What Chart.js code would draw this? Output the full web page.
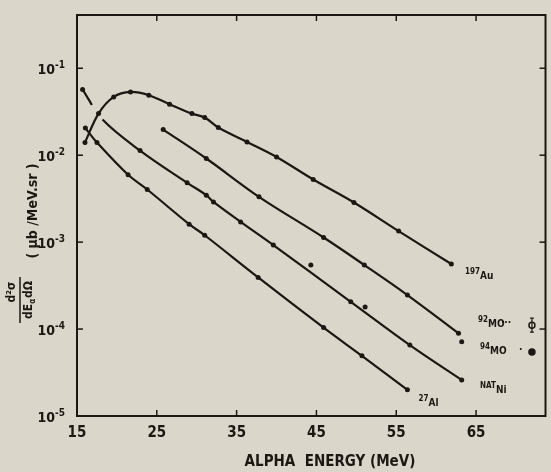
<!DOCTYPE html>
<html>
<head>
<meta charset="utf-8">
<script src="https://cdn.jsdelivr.net/npm/chart.js@4.4.1/dist/chart.umd.min.js"></script>
<style>
  html, body { margin: 0; padding: 0; background: #dbd6ca; overflow: hidden; }
  canvas { display: block; }
</style>
</head>
<body>
<canvas id="c" width="551" height="472"></canvas>
<script>
// ---- data (alpha energy in MeV, d2sigma in ub/MeV.sr) ----
const energyAu = [16.0, 17.7, 19.6, 21.7, 24.0, 26.6, 29.4, 31.0, 32.7, 36.3, 40.0, 44.6, 49.7, 55.3, 61.9];
const sigmaAu  = [0.014, 0.0301, 0.0468, 0.0534, 0.049, 0.0386, 0.0301, 0.0271, 0.0208, 0.0142, 0.00955, 0.00526, 0.00286, 0.00134, 0.00056];

const energyMo = [25.8, 31.2, 37.8, 45.9, 51.0, 56.4, 62.8];
const sigmaMo  = [0.0197, 0.00916, 0.00332, 0.00113, 0.000545, 0.000246, 0.0000893];

const energyNi = [15.7, 18.2, 22.9, 28.8, 31.2, 32.1, 35.5, 39.6, 49.3, 56.7, 63.2];
const sigmaNi  = [0.0569, 0.0257, 0.0113, 0.00481, 0.00347, 0.0029, 0.00171, 0.000924, 0.000206, 0.0000655, 0.000026];
const markNi   = [true, false, true, true, true, true, true, true, true, true, true];

const energyAl = [16.05, 17.5, 21.4, 23.8, 29.05, 31.0, 37.7, 45.9, 50.7, 56.4];
const sigmaAl  = [0.0205, 0.014, 0.00595, 0.00403, 0.00161, 0.0012, 0.000393, 0.000104, 0.0000492, 0.000020];

// points sitting off the drawn curves (Ni strays, last 94Mo point)
const energyStray = [44.3, 51.1, 63.2];
const sigmaStray  = [0.000545, 0.00018, 0.0000714];

// key symbols: 92Mo open, 94Mo filled
const energyKey = [72.0, 72.0];
const sigmaKey  = [0.000111, 0.0000545];

const xTicks = [15, 25, 35, 45, 55, 65];
const xTickLabels = ['15', '25', '35', '45', '55', '65'];
const yTicks = [1e-5, 1e-4, 1e-3, 1e-2, 1e-1];
const yTickExp = ['-5', '-4', '-3', '-2', '-1'];

const INK = '#1b1713';
const BG = '#dbd6ca';
const FONT = '"DejaVu Sans Condensed", "DejaVu Sans", sans-serif';

const pts = (xs, ys) => xs.map((v, i) => ({ x: v, y: ys[i] }));

const curve = (data, extra) => Object.assign({
  data, borderColor: INK, backgroundColor: INK, borderWidth: 2.2,
  pointRadius: 2.5, pointHoverRadius: 2.5, pointBorderWidth: 0,
  tension: 0.35, showLine: true
}, extra || {});

// isotope labels: mass number, symbol, anchor (energy, sigma)
const isoLabels = [
  { mass: '197', sym: 'Au', e: 63.6, s: 3.8e-4 },
  { mass: '92',  sym: 'Mo', e: 65.25, s: 1.05e-4 },
  { mass: '94',  sym: 'Mo', e: 65.5, s: 5.2e-5 },
  { mass: 'NAT', sym: 'Ni', e: 65.5, s: 1.85e-5 },
  { mass: '27',  sym: 'Al', e: 57.8, s: 1.3e-5 }
];

const annot = {
  id: 'annot',
  beforeDraw(chart) {
    const { ctx, width, height } = chart;
    ctx.save();
    ctx.fillStyle = BG;
    ctx.fillRect(0, 0, width, height);
    ctx.restore();
  },
  afterDraw(chart) {
    const { ctx, chartArea: a, scales: { x, y } } = chart;
    ctx.save();
    ctx.strokeStyle = INK;
    ctx.fillStyle = INK;
    const seg = (x1, y1, x2, y2) => { ctx.beginPath(); ctx.moveTo(x1, y1); ctx.lineTo(x2, y2); ctx.stroke(); };

    // frame + inward ticks
    ctx.lineWidth = 2;
    ctx.strokeRect(a.left, a.top, a.right - a.left, a.bottom - a.top);
    ctx.lineWidth = 1.5;
    xTicks.forEach(v => {
      if (v === x.min) return;
      const px = x.getPixelForValue(v);
      seg(px, a.bottom, px, a.bottom - 6);
      seg(px, a.top, px, a.top + 6);
    });
    yTicks.forEach(v => {
      const py = y.getPixelForValue(v);
      if (py >= a.bottom - 1) return;
      seg(a.left, py, a.left + 6, py);
      seg(a.right, py, a.right - 6, py);
    });

    // y tick labels: 10 with raised exponent
    ctx.textBaseline = 'alphabetic';
    ctx.textAlign = 'right';
    yTicks.forEach((v, i) => {
      const py = y.getPixelForValue(v);
      const rx = a.left - 12;
      ctx.font = 'bold 10px ' + FONT;
      const we = ctx.measureText(yTickExp[i]).width;
      ctx.fillText(yTickExp[i], rx, py);
      ctx.font = 'bold 14px ' + FONT;
      ctx.fillText('10', rx - we, py + 6);
    });

    // isotope labels
    ctx.textAlign = 'left';
    isoLabels.forEach(L => {
      const px = x.getPixelForValue(L.e), py = y.getPixelForValue(L.s);
      ctx.font = 'bold 8px ' + FONT;
      ctx.fillText(L.mass, px, py - 5);
      const w = ctx.measureText(L.mass).width;
      ctx.font = 'bold 10px ' + FONT;
      ctx.fillText(L.sym === 'Mo' ? 'MO' : L.sym, px + w, py);
    });

    // key leaders + error bar on open symbol
    const kx = x.getPixelForValue(energyKey[0]);
    const k1 = y.getPixelForValue(sigmaKey[0]), k2 = y.getPixelForValue(sigmaKey[1]);
    ctx.font = 'bold 10px ' + FONT;
    ctx.fillText('···', kx - 31, k1 + 1);
    ctx.fillText('·', kx - 13, k2 + 1);
    ctx.lineWidth = 1.2;
    seg(kx, k1 - 7, kx, k1 + 7);
    seg(kx - 2, k1 - 7, kx + 2, k1 - 7);
    seg(kx - 2, k1 + 7, kx + 2, k1 + 7);

    // y axis title (rotated)
    const rot = (txt, cx, cy, font) => {
      ctx.save();
      ctx.translate(cx, cy);
      ctx.rotate(-Math.PI / 2);
      ctx.font = font;
      ctx.textAlign = 'center';
      ctx.textBaseline = 'middle';
      ctx.fillText(txt, 0, 0);
      ctx.restore();
    };
    rot('d²σ', 12, 292, 'bold 12px ' + FONT);
    ctx.lineWidth = 1.5;
    seg(20, 277, 20, 323);
    // denominator dE(alpha) dOmega
    ctx.save();
    ctx.translate(29, 300);
    ctx.rotate(-Math.PI / 2);
    ctx.textBaseline = 'middle';
    ctx.textAlign = 'left';
    const p1 = 'dE', p3 = 'dΩ';
    ctx.font = 'bold 12px ' + FONT;
    const w1 = ctx.measureText(p1).width, w3 = ctx.measureText(p3).width;
    ctx.font = 'bold 8px ' + FONT;
    const w2 = ctx.measureText('α').width;
    let sx = -(w1 + w2 + w3 + 1) / 2;
    ctx.font = 'bold 12px ' + FONT;
    ctx.fillText(p1, sx, 0); sx += w1;
    ctx.font = 'bold 8px ' + FONT;
    ctx.fillText('α', sx, 4); sx += w2 + 1;
    ctx.font = 'bold 12px ' + FONT;
    ctx.fillText(p3, sx, 0);
    ctx.restore();
    rot('( μb /MeV.sr )', 33, 211, 'bold 14px ' + FONT);

    // x axis title
    ctx.font = 'bold 15px ' + FONT;
    ctx.textAlign = 'center';
    ctx.textBaseline = 'middle';
    ctx.fillText('ALPHA  ENERGY (MeV)', 330, 462);
    ctx.restore();
  }
};

new Chart(document.getElementById('c'), {
  type: 'scatter',
  data: {
    datasets: [
      curve(pts(energyAu, sigmaAu), { label: '197Au' }),
      curve(pts(energyMo, sigmaMo), { label: 'Mo' }),
      curve(pts(energyNi, sigmaNi), {
        label: 'NatNi',
        pointRadius: ctx => markNi[ctx.dataIndex] ? 2.5 : 0,
        segment: { borderDash: ctx => ctx.p0DataIndex === 0 ? [18, 40] : undefined }
      }),
      curve(pts(energyAl, sigmaAl), { label: '27Al' }),
      curve(pts(energyStray, sigmaStray), { label: 'off-curve', showLine: false }),
      { label: 'key', data: pts(energyKey, sigmaKey), showLine: false,
        pointRadius: 3, pointBorderWidth: 1.5, borderColor: INK,
        backgroundColor: [BG, INK] }
    ]
  },
  plugins: [annot],
  options: {
    responsive: false, animation: false,
    layout: { padding: { top: 15, right: 3, left: 0, bottom: 0 } },
    plugins: { legend: { display: false }, tooltip: { enabled: false } },
    scales: {
      x: {
        type: 'linear', min: 15, max: 73.7,
        afterFit: s => { s.height = 56; s.paddingLeft = 0; s.paddingRight = 0; },
        afterBuildTicks: s => { s.ticks = xTicks.map(v => ({ value: v })); },
        grid: { display: false, drawTicks: false },
        border: { display: false },
        ticks: { color: INK, padding: 8, font: { family: FONT, size: 15, weight: 'bold' },
                 callback: (v, i) => xTickLabels[i] }
      },
      y: {
        type: 'logarithmic', min: 1e-5, max: 0.41,
        afterFit: s => { s.width = 77; s.paddingTop = 0; s.paddingBottom = 0; },
        afterBuildTicks: s => { s.ticks = yTicks.map(v => ({ value: v })); },
        grid: { display: false, drawTicks: false },
        border: { display: false },
        ticks: { display: false }
      }
    }
  }
});
</script>
</body>
</html>
